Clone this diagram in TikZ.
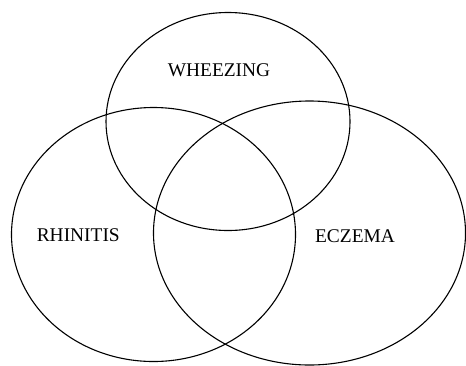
\documentclass[tikz,border=0pt]{standalone}
\usepackage{fontspec}
\setmainfont{Liberation Serif}
\begin{document}
\begin{tikzpicture}[x=1bp,y=-1bp,
  setring/.style={draw=black,line width=1.1bp},
  setlabel/.style={font=\fontsize{19.4bp}{22bp}\selectfont,inner sep=0pt,anchor=center}]
\useasboundingbox (0,0) rectangle (466,365);
\draw[setring] (228,121.5) ellipse [x radius=122,y radius=109];
\draw[setring] (153.5,234.5) ellipse [x radius=142,y radius=127];
\draw[setring] (309.5,233) ellipse [x radius=156,y radius=132];
\node[setlabel] (w) at (219,70) {WHEEZING};
\node[setlabel] (r) at (78.3,235) {RHINITIS};
\node[setlabel] (e) at (355,236) {ECZEMA};
\end{tikzpicture}
\end{document}
